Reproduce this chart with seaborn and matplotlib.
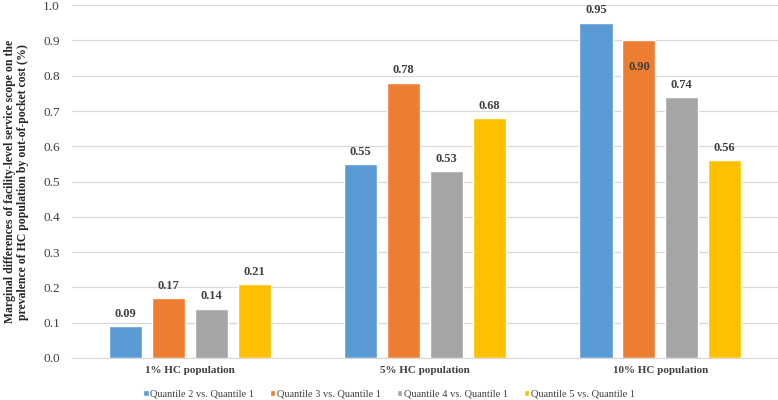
import seaborn as sns
import pandas as pd
import matplotlib.pyplot as plt

# data
categories = ['1% HC population', '5% HC population', '10% HC population']
series = ['Quantile 2 vs. Quantile 1', 'Quantile 3 vs. Quantile 1',
          'Quantile 4 vs. Quantile 1', 'Quantile 5 vs. Quantile 1']
q2 = [0.09, 0.55, 0.95]
q3 = [0.17, 0.78, 0.90]
q4 = [0.14, 0.53, 0.74]
q5 = [0.21, 0.68, 0.56]
colors = ['#5B9BD5', '#ED7D31', '#A5A5A5', '#FFC000']

rows = []
for name, vals in zip(series, [q2, q3, q4, q5]):
    for cat, v in zip(categories, vals):
        rows.append({'Category': cat, 'Series': name, 'Value': v})
df = pd.DataFrame(rows)

sns.set_style('white')
plt.rcParams['font.family'] = ['Liberation Serif', 'DejaVu Serif']

fig, ax = plt.subplots(figsize=(7.78, 4), dpi=100)
fig.subplots_adjust(left=0.093, right=1.0, top=0.987, bottom=0.105)

sns.barplot(data=df, x='Category', y='Value', hue='Series', order=categories,
            hue_order=series, palette=colors, width=0.73, gap=0.23,
            saturation=1, ax=ax, legend=True)

ax.set_ylim(0, 1.0)
ax.set_yticks([i / 10 for i in range(11)])
ax.set_yticklabels([f'{i / 10:.1f}' for i in range(11)], fontsize=9.5, color='#404040')
ax.set_xticks(range(len(categories)))
ax.set_xticklabels(categories, fontsize=8, fontweight='bold', color='#404040')
ax.set_xlabel('')
ax.set_ylabel('Marginal differences of facility-level service scope on the\n'
              'prevalence of HC population by out-of-pocket cost (%)',
              fontsize=8.5, fontweight='bold', linespacing=1.1)
ax.yaxis.set_label_coords(-0.061, 0.5)
ax.yaxis.grid(True, color='#D9D9D9', linewidth=0.9)
ax.set_axisbelow(True)
for s in ['top', 'right', 'left']:
    ax.spines[s].set_visible(False)
ax.spines['bottom'].set_color('#D9D9D9')
ax.tick_params(axis='y', length=0, pad=9)
ax.tick_params(axis='x', length=0, pad=6)

# value labels (0.90 sits inside its bar, as in the original)
for container in ax.containers:
    for bar in container:
        h = bar.get_height()
        x = bar.get_x() + bar.get_width() / 2
        if 0.88 < h < 0.93:
            ax.text(x, h - 0.075, f'{h:.2f}', ha='center', va='center',
                    fontsize=9, fontweight='bold', color='#404040')
        else:
            ax.text(x, h + 0.035, f'{h:.2f}', ha='center', va='center',
                    fontsize=9, fontweight='bold', color='#404040')

leg = ax.legend(loc='center', bbox_to_anchor=(0.5, 0.014),
                bbox_transform=fig.transFigure, ncol=4,
                frameon=False, fontsize=7.5, handlelength=0.5, handleheight=0.5,
                handletextpad=0.15, columnspacing=1.55)
for t in leg.get_texts():
    t.set_color('#404040')

fig.savefig('out.png', dpi=100)
